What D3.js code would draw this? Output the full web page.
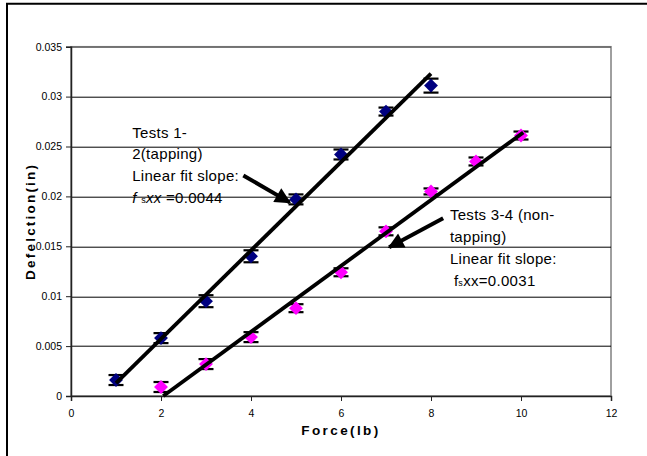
<!DOCTYPE html>
<html>
<head>
<meta charset="utf-8">
<script src="https://cdn.jsdelivr.net/npm/d3@7"></script>
<style>
  html, body { margin: 0; background: #fff; overflow: hidden; }
  svg { display: block; }
  text { font-family: "Liberation Sans", Arial, sans-serif; }
</style>
</head>
<body>
<script>
/*
    LAYOUT
*/
var width = 647;
var height = 456;
var margin = {top: 46.7, right: 36, bottom: 60, left: 71};
var w = width - margin.left - margin.right;   // 540
var h = height - margin.top - margin.bottom;  // ~349

/*
    DATA
*/
var tappingForce = [1, 2, 3, 4, 5, 6, 7, 8];
var tappingDefl  = [0.0016, 0.0058, 0.0095, 0.0140, 0.0197, 0.0242, 0.0285, 0.0311];
var tappingErr   = [0.0005, 0.0005, 0.0006, 0.0006, 0.0005, 0.0005, 0.0004, 0.0007];

var nonTapForce = [2, 3, 4, 5, 6, 7, 8, 9, 10];
var nonTapDefl  = [0.0009, 0.0032, 0.0059, 0.0088, 0.0124, 0.0165, 0.0205, 0.0235, 0.0261];
var nonTapErr   = [0.0005, 0.0005, 0.0005, 0.0004, 0.0004, 0.0004, 0.0003, 0.0004, 0.0004];

// linear fit end points
var tappingFit = [[1, 0.0013], [8, 0.0323]];
var nonTapFit  = [[2.05, 0], [10.05, 0.0264]];

var xTicks = [0, 2, 4, 6, 8, 10, 12];
var yTicks = [0, 0.005, 0.01, 0.015, 0.02, 0.025, 0.03, 0.035];

var note1Lines = ["Tests 1-", "2(tapping)", "Linear fit slope:"];
var note1Slope = "=0.0044";
var note2Lines = ["Tests 3-4 (non-", "tapping)", "Linear fit slope:"];
var note2Slope = "=0.0031";

// arrows: [from, to] in data units
var arrow1 = [[3.83, 0.0221], [4.86, 0.0194]];
var arrow2 = [[8.27, 0.0178], [7.07, 0.0149]];

/*
    SCALES
*/
var x = d3.scaleLinear().domain([0, 12]).range([0, w]);
var y = d3.scaleLinear().domain([0, 0.035]).range([h, 0]);

var svg = d3.select("body").append("svg")
    .attr("width", width)
    .attr("height", height);

// outer chart frame: only the left and top edges are in view
svg.append("path")
    .attr("d", "M7," + height + " V3.7 H" + width)
    .style("fill", "none")
    .style("stroke", "#000")
    .style("stroke-width", 2);

svg.append("defs").append("marker")
    .attr("id", "head")
    .attr("viewBox", "0 0 10 10")
    .attr("refX", 9).attr("refY", 5)
    .attr("markerUnits", "userSpaceOnUse")
    .attr("markerWidth", 18).attr("markerHeight", 16)
    .attr("orient", "auto")
  .append("path")
    .attr("d", "M0,0 L10,5 L0,10 Z")
    .style("fill", "#000");

var chart = svg.append("g")
    .attr("transform", "translate(" + margin.left + "," + margin.top + ")");

// plot area border
chart.append("rect")
    .attr("width", w).attr("height", h)
    .style("fill", "none")
    .style("stroke", "#808080")
    .style("stroke-width", 1.5);

// gridlines
chart.selectAll("line.grid")
    .data(yTicks.filter(function(d) { return d > 0; }))
  .enter().append("line")
    .attr("class", "grid")
    .attr("x1", 0).attr("x2", w)
    .attr("y1", function(d) { return Math.round(y(d)) + 0.5; })
    .attr("y2", function(d) { return Math.round(y(d)) + 0.5; })
    .style("stroke", function(d) { return d == 0.035 ? "#555" : "#000"; })
    .style("stroke-width", 1);

// axes
var xAxis = chart.append("g")
    .attr("transform", "translate(0," + h + ")")
    .call(d3.axisBottom(x).tickValues(xTicks).tickSize(5).tickPadding(9)
        .tickFormat(d3.format("d")));
var yAxis = chart.append("g")
    .call(d3.axisLeft(y).tickValues(yTicks).tickSize(5).tickPadding(4)
        .tickFormat(function(d) { return d == 0 ? "0" : String(+d.toFixed(3)); }));

[xAxis, yAxis].forEach(function(a) {
  a.select(".domain").style("stroke", "#222").style("stroke-width", 1.5);
  a.selectAll(".tick line").style("stroke", "#222");
  a.selectAll(".tick text")
      .style("font-family", "'Liberation Sans', Arial, sans-serif")
      .style("font-size", "10.5px")
      .style("fill", "#000");
});

// axis titles
chart.append("text")
    .attr("x", w / 2).attr("y", h + 39)
    .style("text-anchor", "middle")
    .style("font-weight", "bold")
    .style("font-size", "13.5px")
    .style("letter-spacing", "2.4px")
    .text("Force(lb)");

chart.append("text")
    .attr("transform", "translate(-36," + (h / 2) + ") rotate(-90)")
    .style("text-anchor", "middle")
    .style("font-weight", "bold")
    .style("font-size", "13.5px")
    .style("letter-spacing", "2.2px")
    .text("Defelction(in)");

/*
    FIT LINES
*/
var line = d3.line()
    .x(function(d) { return x(d[0]); })
    .y(function(d) { return y(d[1]); });

/*
    SERIES: error bars + diamonds
*/
function drawSeries(force, defl, err, colour, cls) {
  var pts = force.map(function(f, i) { return {f: f, v: defl[i], e: err[i]}; });
  var g = chart.append("g").attr("class", cls);

  var bars = g.selectAll("g.err").data(pts).enter().append("g").attr("class", "err");
  bars.append("line")
      .attr("x1", function(d) { return x(d.f); })
      .attr("x2", function(d) { return x(d.f); })
      .attr("y1", function(d) { return y(d.v - d.e); })
      .attr("y2", function(d) { return y(d.v + d.e); });
  [-1, 1].forEach(function(s) {
    bars.append("line")
        .attr("x1", function(d) { return x(d.f) - 7.5; })
        .attr("x2", function(d) { return x(d.f) + 7.5; })
        .attr("y1", function(d) { return y(d.v + s * d.e); })
        .attr("y2", function(d) { return y(d.v + s * d.e); });
  });
  bars.selectAll("line").style("stroke", "#000").style("stroke-width", 2.2);

  g.selectAll("path.pt").data(pts).enter().append("path")
      .attr("class", "pt")
      .attr("d", d3.symbol().type(d3.symbolSquare).size(96))
      .attr("transform", function(d) {
        return "translate(" + x(d.f) + "," + y(d.v) + ") rotate(45)";
      })
      .style("fill", colour);
}

drawSeries(tappingForce, tappingDefl, tappingErr, "#000080", "tapping");
drawSeries(nonTapForce, nonTapDefl, nonTapErr, "#FF00FF", "nontap");

[tappingFit, nonTapFit].forEach(function(f) {
  chart.append("path")
      .datum(f)
      .attr("d", line)
      .style("fill", "none")
      .style("stroke", "#000")
      .style("stroke-width", 3.8);
});

/*
    ANNOTATIONS
*/
function note(lines, slope, ax, ay, italic) {
  var t = chart.append("text")
      .attr("x", x(ax)).attr("y", y(ay))
      .style("font-size", "15px")
      .style("letter-spacing", "0.3px")
      .style("fill", "#000");
  lines.forEach(function(s, i) {
    t.append("tspan").attr("x", x(ax)).attr("dy", i == 0 ? 0 : 21.8).text(s);
  });
  var last = t.append("tspan").attr("x", x(ax) + (italic ? 0 : 4)).attr("dy", 21.8);
  last.append("tspan").style("font-style", italic ? "italic" : "normal").text(italic ? "f " : "f");
  last.append("tspan").style("font-size", "9px").text("s");
  last.append("tspan").style("font-style", italic ? "italic" : "normal").text(italic ? "xx " : "xx");
  last.append("tspan").text(slope);
}

note(note1Lines, note1Slope, 1.36, 0.0259, true);
note(note2Lines, note2Slope, 8.42, 0.0176, false);

[arrow1, arrow2].forEach(function(a) {
  chart.append("path")
      .datum(a)
      .attr("d", line)
      .attr("marker-end", "url(#head)")
      .style("fill", "none")
      .style("stroke", "#000")
      .style("stroke-width", 4);
});
</script>
</body>
</html>
